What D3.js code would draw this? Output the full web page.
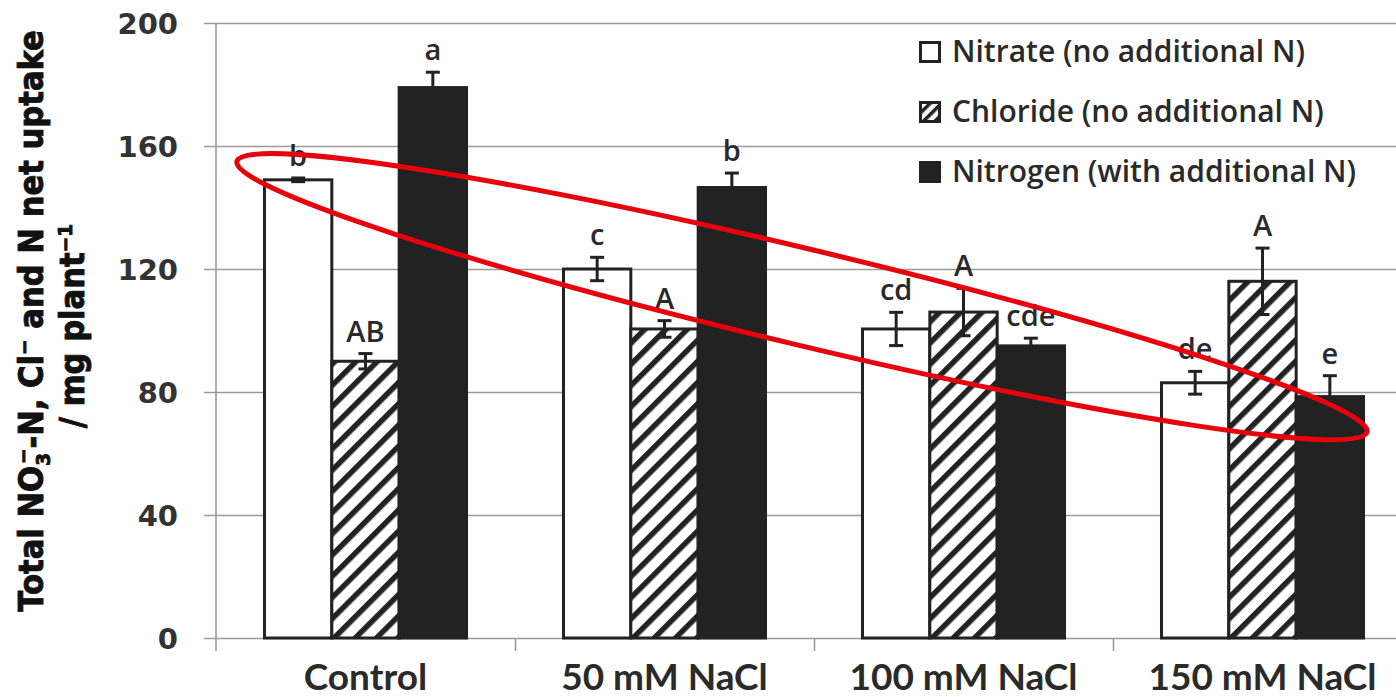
<!DOCTYPE html>
<html>
<head>
<meta charset="utf-8">
<script src="https://cdn.jsdelivr.net/npm/d3@7"></script>
<style>
  body { margin: 0; background: #fff; }
  svg { display: block; }
</style>
</head>
<body>
<svg id="chart" width="1396" height="697"></svg>
<script>
// data
const categories = ["Control", "50 mM NaCl", "100 mM NaCl", "150 mM NaCl"];
const series = ["Nitrate (no additional N)", "Chloride (no additional N)", "Nitrogen (with additional N)"];
const nitrate = [149, 120, 100.5, 83];
const nitrateErr = [0.6, 3.8, 5.4, 3.7];
const chloride = [90, 100.5, 106, 116];
const chlorideErr = [2.5, 2.7, 7.7, 10.8];
const nitrogen = [179, 146.5, 95, 78.5];
const nitrogenErr = [5, 4.7, 2.5, 6.8];
const letters = [
    ["b", "AB", "a"],
    ["c", "A", "b"],
    ["cd", "A", "cde"],
    ["de", "A", "e"]
];
const yTicks = [0, 40, 80, 120, 160, 200];

const values = [nitrate, chloride, nitrogen];
const errors = [nitrateErr, chlorideErr, nitrogenErr];

const svg = d3.select("#chart");
const width = 1396;
const height = 697;
const margin = { top: 23, left: 216, bottom: 59, right: -16 };
const dark = "#222";
const textColour = "#2a2a2a";
const catFont = "Lato, 'Open Sans', sans-serif";
const labelFont = "'Open Sans', Lato, sans-serif";

// scales
const x0 = d3.scaleBand()
    .domain(categories)
    .range([margin.left, width - margin.right])
    .padding(0);

const x1 = d3.scaleBand()
    .domain(series)
    .range([0, x0.bandwidth()])
    .paddingInner(0)
    .paddingOuter(0.72);

const y = d3.scaleLinear()
    .domain([0, 200])
    .range([height - margin.bottom, margin.top]);

// hatch patterns
const defs = svg.append("defs");
function hatch(id, size, bar) {
    const p = defs.append("pattern")
        .attr("id", id)
        .attr("patternUnits", "userSpaceOnUse")
        .attr("width", size)
        .attr("height", size)
        .attr("patternTransform", "rotate(45)");
    p.append("rect").attr("width", size).attr("height", size).attr("fill", "#fff");
    p.append("rect").attr("width", bar).attr("height", size).attr("fill", dark);
}
hatch("hatch", 15, 5.5);
hatch("hatchSmall", 8, 3.5);

const fills = ["#fff", "url(#hatch)", dark];
const legendFills = ["#fff", "url(#hatchSmall)", dark];

// y axis with gridlines
const yAxis = svg.append("g")
    .attr("transform", `translate(${margin.left},0)`)
    .call(d3.axisLeft(y)
        .tickValues(yTicks)
        .tickSizeInner(-(width - margin.right - margin.left))
        .tickSizeOuter(0)
        .tickPadding(38));
yAxis.select(".domain").remove();
yAxis.selectAll(".tick line")
    .attr("x1", -12)
    .attr("stroke", "#9a9a9a")
    .attr("stroke-width", 1.6);
yAxis.selectAll(".tick text")
    .attr("font-family", "'DejaVu Sans', sans-serif")
    .attr("font-weight", "bold")
    .attr("font-size", 29)
    .attr("fill", "#333")
    .attr("dy", "0.36em");

// vertical axis line
svg.append("line")
    .attr("x1", margin.left).attr("x2", margin.left)
    .attr("y1", y(200)).attr("y2", y(0) + 13)
    .attr("stroke", "#9a9a9a")
    .attr("stroke-width", 1.6);

// category boundary ticks
const xb = d3.scaleLinear().domain([0, categories.length]).range(x0.range());
const xTicks = svg.append("g")
    .attr("transform", `translate(0,${y(0)})`)
    .call(d3.axisBottom(xb).tickValues(d3.range(1, categories.length + 1)).tickFormat("").tickSizeInner(13).tickSizeOuter(0));
xTicks.select(".domain").remove();
xTicks.selectAll(".tick line").attr("stroke", "#9a9a9a").attr("stroke-width", 1.6);

// category labels
svg.append("g")
    .selectAll("text")
    .data(categories)
    .join("text")
    .attr("x", d => x0(d) + x0.bandwidth() / 2)
    .attr("y", 690)
    .attr("text-anchor", "middle")
    .attr("font-family", catFont)
    .attr("font-weight", "bold")
    .attr("font-size", 37)
    .attr("fill", textColour)
    .text(d => d);

// bars
const rows = [];
categories.forEach((c, i) => {
    series.forEach((s, j) => {
        rows.push({ cat: c, s: s, j: j, v: values[j][i], e: errors[j][i], letter: letters[i][j] });
    });
});

const groups = svg.append("g").selectAll("g")
    .data(rows)
    .join("g")
    .attr("transform", d => `translate(${x0(d.cat) + x1(d.s)},0)`);

groups.append("rect")
    .attr("x", 0)
    .attr("y", d => y(d.v))
    .attr("width", x1.bandwidth())
    .attr("height", d => y(0) - y(d.v))
    .attr("fill", d => fills[d.j])
    .attr("stroke", dark)
    .attr("stroke-width", 3);

// error bars
const bw = x1.bandwidth();
groups.append("line")
    .attr("x1", bw / 2).attr("x2", bw / 2)
    .attr("y1", d => y(d.v - d.e))
    .attr("y2", d => y(d.v + d.e))
    .attr("stroke", dark)
    .attr("stroke-width", 3);
groups.selectAll("line.cap")
    .data(d => [d.v - d.e, d.v + d.e])
    .join("line")
    .attr("class", "cap")
    .attr("x1", bw / 2 - 7).attr("x2", bw / 2 + 7)
    .attr("y1", d => y(d)).attr("y2", d => y(d))
    .attr("stroke", dark)
    .attr("stroke-width", 3);

// significance letters
groups.append("text")
    .attr("x", bw / 2)
    .attr("y", d => y(d.v + d.e) - 12)
    .attr("text-anchor", "middle")
    .attr("font-family", labelFont)
    .attr("font-weight", 600)
    .attr("font-size", 29)
    .attr("fill", textColour)
    .text(d => d.letter);

// legend
const legend = svg.append("g").attr("transform", "translate(919,0)");
const legendRows = legend.selectAll("g")
    .data(series)
    .join("g")
    .attr("transform", (d, i) => `translate(0,${52 + i * 60})`);
legendRows.append("rect")
    .attr("x", 1.5).attr("y", -9.5)
    .attr("width", 19).attr("height", 19)
    .attr("fill", (d, i) => legendFills[i])
    .attr("stroke", dark)
    .attr("stroke-width", 3);
legendRows.append("text")
    .attr("x", 33)
    .attr("y", 10)
    .attr("font-family", labelFont)
    .attr("font-weight", 600)
    .attr("font-size", 30)
    .attr("fill", textColour)
    .text(d => d);

// y axis title (heavy face, thickened with a thin stroke)
const title = svg.append("g")
    .attr("font-family", "'DejaVu Sans', sans-serif")
    .attr("font-weight", "bold")
    .attr("fill", "#111")
    .attr("stroke", "#111")
    .attr("stroke-width", 0.9)
    .attr("text-anchor", "middle");

const t1 = title.append("text")
    .attr("font-size", 33);
t1.append("tspan").text("Total NO");
t1.append("tspan").attr("font-size", 20).attr("dy", 7).text("3");
t1.append("tspan").attr("font-size", 20).attr("dx", -12).attr("dy", -20).text("−");
t1.append("tspan").attr("dy", 13).text("-N, Cl");
t1.append("tspan").attr("font-size", 20).attr("dy", -12).text("−");
t1.append("tspan").attr("dy", 12).text(" and N net uptake");

const t2 = title.append("text")
    .attr("font-size", 33);
t2.append("tspan").text("/ mg plant");
t2.append("tspan").attr("font-size", 20).attr("dy", -12).text("−1");

// squeeze the title along its length to fit the axis height
const sx = 582 / t1.node().getBBox().width;
t1.attr("transform", `translate(43,321) rotate(-90) scale(${sx},1)`);
t2.attr("transform", `translate(84,326) rotate(-90) scale(${sx},1)`);

// red annotation ellipse, ends given in (group index, value)
const ann = { from: [0.07, 155], to: [3.85, 67], semiMinor: 48 };
const p0 = [xb(ann.from[0]), y(ann.from[1])];
const p1 = [xb(ann.to[0]), y(ann.to[1])];
const cx = (p0[0] + p1[0]) / 2;
const cy = (p0[1] + p1[1]) / 2;
const rx = Math.hypot(p1[0] - p0[0], p1[1] - p0[1]) / 2;
const angle = Math.atan2(p1[1] - p0[1], p1[0] - p0[0]) * 180 / Math.PI;
svg.append("ellipse")
    .attr("transform", `translate(${cx},${cy}) rotate(${angle})`)
    .attr("rx", rx)
    .attr("ry", ann.semiMinor)
    .attr("fill", "none")
    .attr("stroke", "#e8000d")
    .attr("stroke-width", 5);
</script>
</body>
</html>
